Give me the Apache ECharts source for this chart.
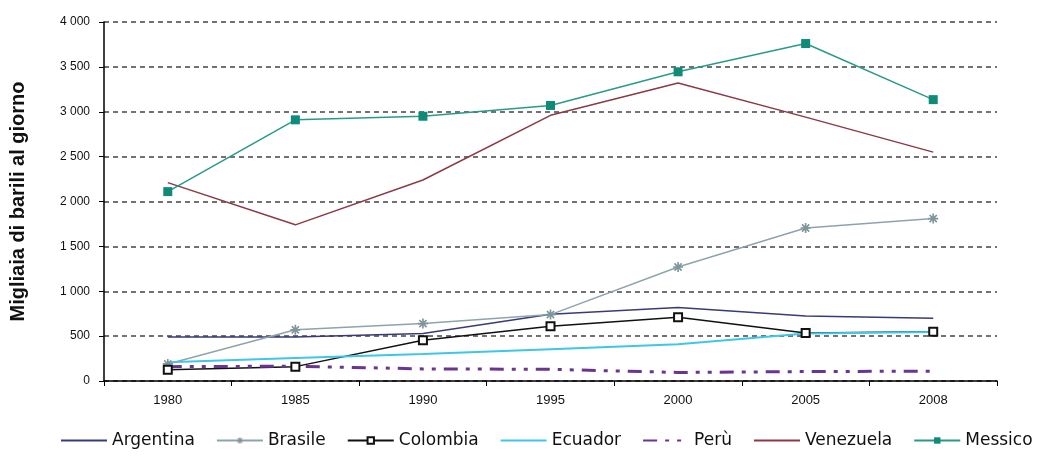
<!DOCTYPE html>
<html><head><meta charset="utf-8">
<script src="https://cdn.jsdelivr.net/npm/echarts@6/dist/echarts.min.js"></script>
<style>html,body{margin:0;padding:0;background:#fff}#c{width:1051px;height:456px}</style>
</head><body><div id="c"></div>
<script>
const years = ['1980','1985','1990','1995','2000','2005','2008'];
const argentina = [490, 490, 530, 745, 820, 725, 700];
const brasile = [190, 570, 640, 740, 1270, 1705, 1810];
const colombia = [125, 160, 455, 610, 710, 535, 548];
const ecuador = [210, 255, 300, 355, 410, 530, 545];
const peru = [160, 165, 135, 130, 95, 105, 110];
const venezuela = [2210, 1740, 2240, 2960, 3320, 2940, 2550];
const messico = [2110, 2910, 2950, 3070, 3445, 3760, 3135];
const yTicks = [0, 500, 1000, 1500, 2000, 2500, 3000, 3500, 4000];

const font = "'Liberation Sans Narrow', 'Liberation Sans', Arial, sans-serif";
const star = 'path://M4,0h2v3.6l2.6,-2.6 1.4,1.4 -2.6,2.6h3.6v2h-3.6l2.6,2.6 -1.4,1.4 -2.6,-2.6v3.6h-2v-3.6l-2.6,2.6 -1.4,-1.4 2.6,-2.6h-3.6v-2h3.6l-2.6,-2.6 1.4,-1.4 2.6,2.6z';

function fmt(v){ return String(v).replace(/\B(?=(\d{3})+(?!\d))/g, ' '); }

const hide = {opacity: 0};
const chart = echarts.init(document.getElementById('c'), null, {renderer:'canvas'});
chart.setOption({
  animation: false,
  textStyle: {fontFamily: font},
  grid: {left: 103, right: 54, top: 22, bottom: 75},
  legend: {
    top: 430, left: 58, itemWidth: 46, itemHeight: 8, itemGap: 21, padding: 2,
    textStyle: {fontSize: 17, color: '#111', fontFamily: "'DejaVu Sans', sans-serif"},
    data: [
      {name: 'Argentina', itemStyle: hide},
      {name: 'Brasile'},
      {name: 'Colombia'},
      {name: 'Ecuador', itemStyle: hide},
      {name: 'Perù', itemStyle: hide},
      {name: 'Venezuela', itemStyle: hide},
      {name: 'Messico'}
    ]
  },
  xAxis: {
    type: 'category', data: years, boundaryGap: true,
    axisLine: {lineStyle: {color: '#000', width: 1.5}},
    axisTick: {show: true, length: 5, inside: false, lineStyle: {color: '#000'}},
    axisLabel: {fontSize: 13, color: '#111', margin: 13, fontFamily: font}
  },
  yAxis: {
    type: 'value', min: yTicks[0], max: yTicks[yTicks.length-1], interval: yTicks[1]-yTicks[0],
    name: 'Migliaia di barili al giorno', nameLocation: 'middle', nameGap: 76, nameRotate: 90,
    nameTextStyle: {fontSize: 20, fontWeight: 'bold', color: '#111', fontFamily: font},
    axisLine: {show: true, lineStyle: {color: '#000', width: 1.5}},
    axisTick: {show: true, length: 5, lineStyle: {color: '#000'}},
    axisLabel: {fontSize: 12, color: '#111', margin: 14, formatter: v => fmt(v), fontFamily: font},
    splitLine: {show: true, lineStyle: {color: '#444', type: [5, 4], width: 1.5}}
  },
  series: [
    {name: 'Argentina', type: 'line', data: argentina, symbol: 'none',
     lineStyle: {color: '#3a3a78', width: 1.5}, itemStyle: {color: '#3a3a78'}},
    {name: 'Brasile', type: 'line', data: brasile, symbol: star, symbolSize: 10,
     lineStyle: {color: '#8ea4ab', width: 1.5}, itemStyle: {color: '#7f959c'}},
    {name: 'Colombia', type: 'line', data: colombia, symbol: 'emptyRect', symbolSize: 8,
     lineStyle: {color: '#111', width: 1.5}, itemStyle: {color: '#111', borderColor: '#111', borderWidth: 1.5}},
    {name: 'Ecuador', type: 'line', data: ecuador, symbol: 'none',
     lineStyle: {color: '#3cc8e6', width: 2}, itemStyle: {color: '#3cc8e6'}},
    {name: 'Perù', type: 'line', data: peru, symbol: 'none',
     lineStyle: {color: '#6a3590', width: 3, type: [14, 8, 4, 8, 4, 8]}, itemStyle: {color: '#6a3590'}},
    {name: 'Venezuela', type: 'line', data: venezuela, symbol: 'none',
     lineStyle: {color: '#8a3a44', width: 1.5}, itemStyle: {color: '#8a3a44'}},
    {name: 'Messico', type: 'line', data: messico, symbol: 'rect', symbolSize: 9,
     lineStyle: {color: '#2a9a88', width: 1.5}, itemStyle: {color: '#0e8c78'}}
  ]
});
</script></body></html>
